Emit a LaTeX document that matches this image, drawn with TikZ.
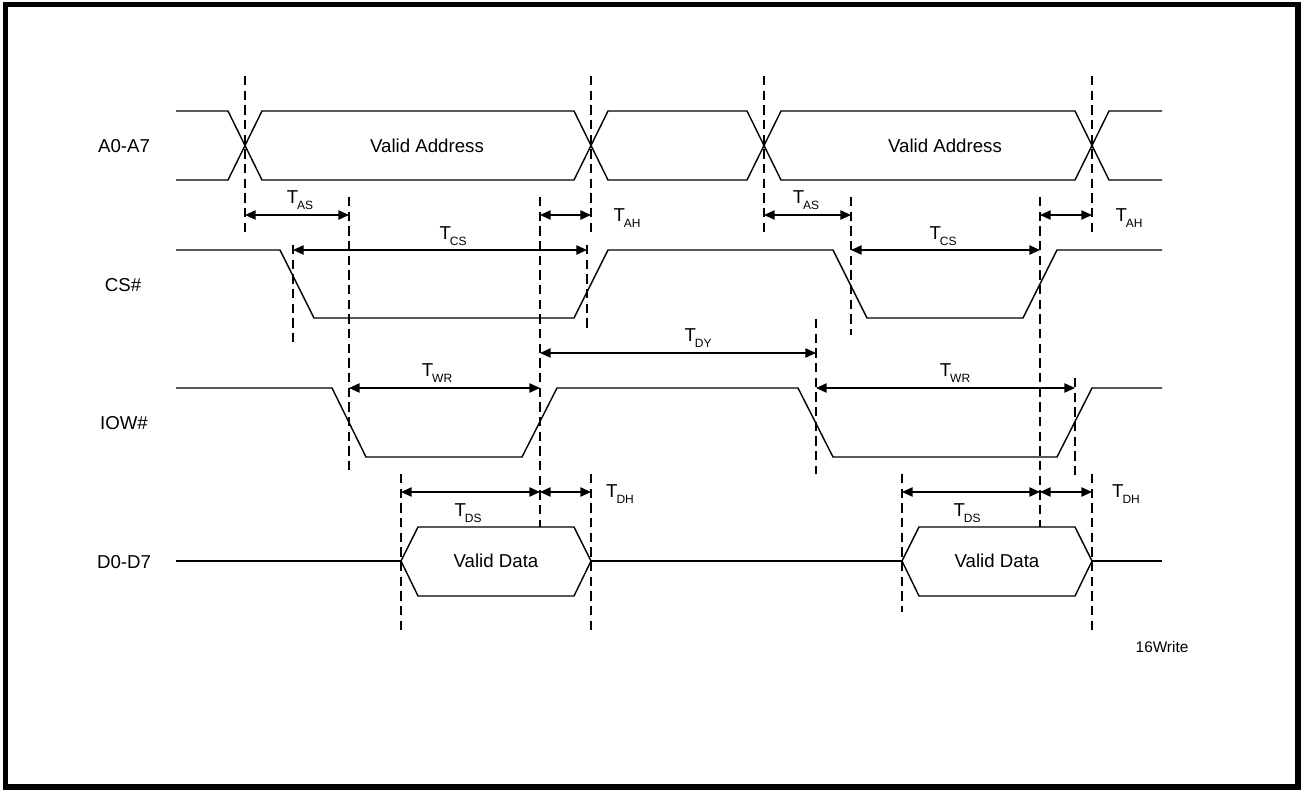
\documentclass[tikz,border=0pt]{standalone}
\usepackage{fontspec}
\setmainfont{Liberation Sans}
\usetikzlibrary{arrows.meta}
\newcommand{\Tsub}[1]{T\kern-0.8pt\raisebox{-4.5pt}{\fontsize{9}{9}\selectfont #1}}
\begin{document}
\begin{tikzpicture}[x=0.75pt,y=-0.75pt,
  wave/.style={line width=1.05pt, line join=miter},
  guide/.style={line width=1.05pt, dash pattern=on 7pt off 4pt},
  dimarrow/.style={line width=1.05pt, {Triangle[length=8pt,width=7pt]}-{Triangle[length=8pt,width=7pt]}},
  siglabel/.style={font=\fontsize{14}{16}\selectfont, inner sep=0pt},
  tlabel/.style={font=\fontsize{14}{16}\selectfont, inner sep=0pt, anchor=base},
]
\useasboundingbox (0,0) rectangle (1302,791);
\fill[white] (0,0) rectangle (1302,791);
\draw[line width=4pt] (5.5,4.5) rectangle (1298,787);

% signal names
\node[siglabel] (nA) at (124,146) {A0-A7};
\node[siglabel] (nCS) at (123,285) {CS\#};
\node[siglabel] (nIOW) at (124,423) {IOW\#};
\node[siglabel] (nD) at (124,562) {D0-D7};

% A0-A7
\draw[wave] (176,111)--(228,111)--(262,180)--(574,180)--(608,111)--(747,111)--(781,180)--(1075,180)--(1109,111)--(1162,111);
\draw[wave] (176,180)--(228,180)--(262,111)--(574,111)--(608,180)--(747,180)--(781,111)--(1075,111)--(1109,180)--(1162,180);
\node[siglabel] (va1) at (427,146) {Valid Address};
\node[siglabel] (va2) at (945,146) {Valid Address};

% CS#
\draw[wave] (176,250)--(280,250)--(314,318)--(574,318)--(608,250)--(833,250)--(867,318)--(1023,318)--(1057,250)--(1162,250);

% IOW#
\draw[wave] (176,388)--(332,388)--(366,457)--(522,457)--(557,388)--(798,388)--(833,457)--(1057,457)--(1092,388)--(1162,388);

% D0-D7
\draw[wave] (176,561)--(401,561);
\draw[wave] (401,561)--(418,527)--(574,527)--(591,561)--(574,596)--(418,596)--cycle;
\draw[wave] (591,561)--(902,561);
\draw[wave] (902,561)--(919,527)--(1075,527)--(1092,561)--(1075,596)--(919,596)--cycle;
\draw[wave] (1092,561)--(1162,561);
\node[siglabel] (vd1) at (496,561) {Valid Data};
\node[siglabel] (vd2) at (997,561) {Valid Data};

% dashed guides
\draw[guide] (245,76)--(245,232);
\draw[guide] (591,76)--(591,232);
\draw[guide] (764,76)--(764,232);
\draw[guide] (1092,76)--(1092,232);
\draw[guide] (349,197)--(349,474);
\draw[guide] (540,197)--(540,527);
\draw[guide] (851,197)--(851,335);
\draw[guide] (1040,197)--(1040,527);
\draw[guide] (293,245)--(293,347);
\draw[guide] (587,245)--(587,328);
\draw[guide] (816,319)--(816,474);
\draw[guide] (1075,378)--(1075,480);
\draw[guide] (401,474)--(401,632);
\draw[guide] (591,474)--(591,632);
\draw[guide] (902,474)--(902,612);
\draw[guide] (1092,474)--(1092,632);

% dimension arrows
\draw[dimarrow] (245,215)--(349,215);
\draw[dimarrow] (764,215)--(851,215);
\draw[dimarrow] (540,215)--(591,215);
\draw[dimarrow] (1040,215)--(1092,215);
\draw[dimarrow] (293,250)--(587,250);
\draw[dimarrow] (851,250)--(1040,250);
\draw[dimarrow] (540,353)--(816,353);
\draw[dimarrow] (349,388)--(540,388);
\draw[dimarrow] (816,388)--(1075,388);
\draw[dimarrow] (401,492)--(540,492);
\draw[dimarrow] (902,492)--(1040,492);
\draw[dimarrow] (540,492)--(591,492);
\draw[dimarrow] (1040,492)--(1092,492);

% timing labels
\node[tlabel] (tas1) at (300,204) {\Tsub{AS}};
\node[tlabel] (tas2) at (806,204) {\Tsub{AS}};
\node[tlabel] (tah1) at (627,222) {\Tsub{AH}};
\node[tlabel] (tah2) at (1129,222) {\Tsub{AH}};
\node[tlabel] (tcs1) at (453,240) {\Tsub{CS}};
\node[tlabel] (tcs2) at (943,240) {\Tsub{CS}};
\node[tlabel] (tdy) at (698,342) {\Tsub{DY}};
\node[tlabel] (twr1) at (437,377) {\Tsub{WR}};
\node[tlabel] (twr2) at (955,377) {\Tsub{WR}};
\node[tlabel] (tds1) at (468,516) {\Tsub{DS}};
\node[tlabel] (tds2) at (967,516) {\Tsub{DS}};
\node[tlabel] (tdh1) at (620,497) {\Tsub{DH}};
\node[tlabel] (tdh2) at (1126,497) {\Tsub{DH}};

\node[font=\fontsize{11.5}{13}\selectfont, inner sep=0pt] (fig) at (1162,647) {16Write};
\end{tikzpicture}
\end{document}
